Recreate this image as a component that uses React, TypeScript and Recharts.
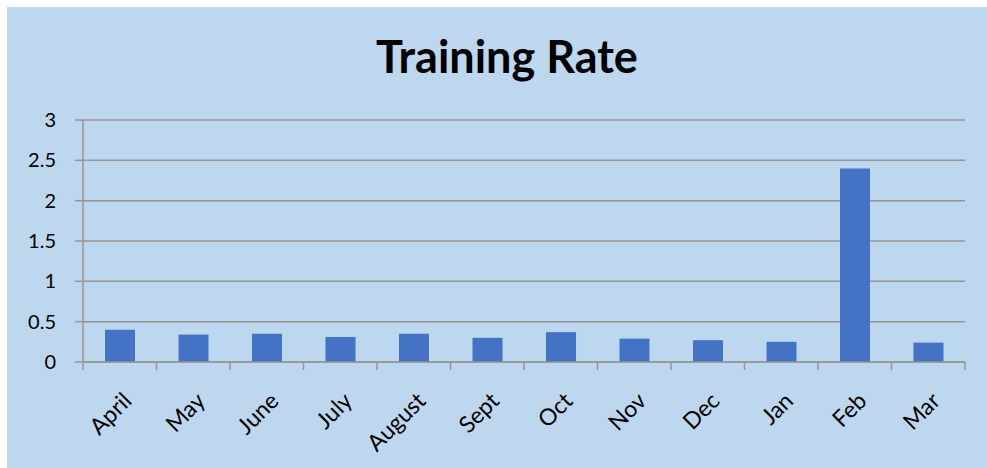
import { BarChart, Bar, XAxis, YAxis, CartesianGrid } from 'recharts';

const months = ['April', 'May', 'June', 'July', 'August', 'Sept', 'Oct', 'Nov', 'Dec', 'Jan', 'Feb', 'Mar'];
const rates = [0.4, 0.34, 0.35, 0.31, 0.35, 0.3, 0.37, 0.29, 0.27, 0.25, 2.4, 0.24];
const yTicks = [0, 0.5, 1, 1.5, 2, 2.5, 3];

const data = months.map((month, i) => ({ month, rate: rates[i] }));

const W = 980;
const H = 461;
const margin = { top: 113, right: 22, left: 0, bottom: 0 };
const yAxisWidth = 76;
const band = (W - margin.left - margin.right - yAxisWidth) / months.length;

const FONT = 'Lato, "Open Sans", sans-serif';
const GRID = '#969696';

// category labels at 45deg plus the boundary tick marks Excel draws
const MonthTick = ({ x, y, payload, index }: any) => {
  const left = x - band / 2;
  const tx = x + 7;
  const ty = y + 26;
  return (
    <g>
      <line x1={left} y1={y - 8} x2={left} y2={y} stroke={GRID} strokeWidth={1.5} />
      {index === months.length - 1 && (
        <line x1={left + band} y1={y - 8} x2={left + band} y2={y} stroke={GRID} strokeWidth={1.5} />
      )}
      <text
        x={tx}
        y={ty}
        transform={`rotate(-45, ${tx}, ${ty})`}
        textAnchor="end"
        fontSize={23}
        fontFamily={FONT}
        fill="#000"
        dominantBaseline="central"
      >
        {payload.value}
      </text>
    </g>
  );
};

export default function App() {
  return (
    <div
      style={{
        position: 'fixed',
        left: 7,
        top: 7,
        right: 0,
        bottom: 0,
        background: '#BDD7EE',
        overflow: 'hidden',
      }}
    >
      <div
        style={{
          position: 'absolute',
          top: 22,
          left: 10,
          width: W,
          textAlign: 'center',
          fontFamily: FONT,
          fontWeight: 700,
          fontSize: 45,
          lineHeight: '54px',
          color: '#000',
        }}
      >
        Training Rate
      </div>
      <BarChart width={W} height={H} data={data} margin={margin}>
        <CartesianGrid vertical={false} stroke={GRID} strokeWidth={1.5} />
        <XAxis
          dataKey="month"
          height={106}
          interval={0}
          tickLine={false}
          axisLine={{ stroke: GRID, strokeWidth: 1.5 }}
          tick={<MonthTick />}
          padding={{ left: 0, right: 0 }}
        />
        <YAxis
          width={yAxisWidth}
          domain={[0, 3]}
          ticks={yTicks}
          tickSize={8}
          tickMargin={19}
          tickLine={{ stroke: GRID, strokeWidth: 1.5 }}
          axisLine={{ stroke: GRID, strokeWidth: 1.5 }}
          tick={{ fontSize: 20, fontFamily: FONT, fill: '#000' }}
        />
        <Bar dataKey="rate" fill="#4472C4" barSize={30} isAnimationActive={false} />
      </BarChart>
    </div>
  );
}
